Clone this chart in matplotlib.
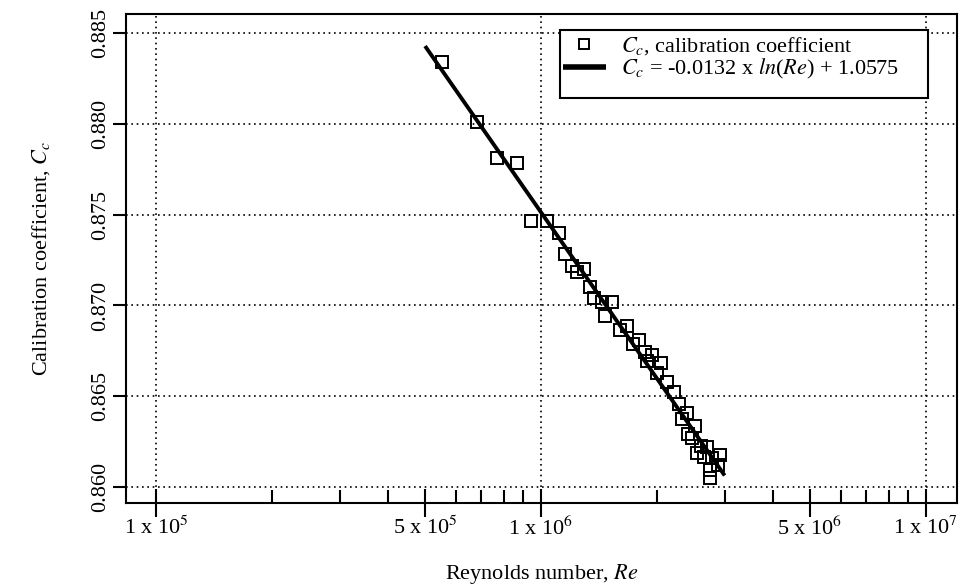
import numpy as np
import matplotlib
matplotlib.use("Agg")
import matplotlib.pyplot as plt
from matplotlib.patches import Rectangle
from matplotlib.ticker import FixedLocator, NullFormatter

plt.rcParams['font.family'] = ['Liberation Serif', 'DejaVu Serif']
plt.rcParams['mathtext.fontset'] = 'stix'

# ---- data ----
re_values = [5.52e5, 6.81e5, 7.70e5, 8.68e5, 9.40e5, 1.035e6, 1.114e6, 1.158e6,
             1.207e6, 1.240e6, 1.294e6, 1.340e6, 1.371e6, 1.438e6, 1.526e6,
             1.469e6, 1.601e6, 1.668e6, 1.732e6, 1.794e6, 1.862e6, 1.942e6,
             1.885e6, 1.998e6, 2.050e6, 2.125e6, 2.212e6, 2.286e6, 2.390e6,
             2.320e6, 2.512e6, 2.413e6, 2.463e6, 2.604e6, 2.699e6, 2.550e6,
             2.654e6, 2.781e6, 2.917e6, 2.882e6, 2.748e6, 2.748e6]
cc_values = [0.88342, 0.88008, 0.87813, 0.87782, 0.87465, 0.87465, 0.87397, 0.87285,
             0.87215, 0.87186, 0.87202, 0.87101, 0.87039, 0.87020, 0.87017,
             0.86944, 0.86865, 0.86889, 0.86787, 0.86808, 0.86743, 0.86727,
             0.86694, 0.86630, 0.86681, 0.86580, 0.86522, 0.86457, 0.86410,
             0.86375, 0.86337, 0.86292, 0.86268, 0.86226, 0.86218, 0.86190,
             0.86167, 0.86160, 0.86176, 0.86121, 0.86094, 0.86052]

fit_slope = -0.0132
fit_intercept = 1.0575
fit_re_range = [5e5, 3e6]

x_major_ticks = [1e5, 5e5, 1e6, 5e6, 1e7]
x_major_labels = [r'1 x 10$^5$', r'5 x 10$^5$', r'1 x 10$^6$', r'5 x 10$^6$', r'1 x 10$^7$']
x_grid = [1e5, 1e6, 1e7]
y_ticks = [0.860, 0.865, 0.870, 0.875, 0.880, 0.885]
y_labels = ['0.860', '0.865', '0.870', '0.875', '0.880', '0.885']

legend_points = r'$C_c$, calibration coefficient'
legend_fit = r'$C_c$ = -0.0132 x $ln$($Re$) + 1.0575'

# ---- figure ----
W, H = 967, 588
fig = plt.figure(figsize=(W / 100, H / 100), dpi=100)
L, R, T, B = 126, 957, 14, 503
ax = fig.add_axes([L / W, 1 - B / H, (R - L) / W, (B - T) / H])

ax.set_xscale('log')
ax.set_xlim(8.36e4, 1.204e7)
ax.set_ylim(0.85912, 0.88605)

# grid lines
grid_kw = dict(color='black', linestyle=(0, (1, 2.2)), linewidth=1.2, zorder=1)
for gx in x_grid:
    ax.axvline(gx, **grid_kw)
for gy in y_ticks:
    ax.axhline(gy, **grid_kw)

# fitted line
re_fit = np.geomspace(fit_re_range[0], fit_re_range[1], 100)
cc_fit = fit_slope * np.log(re_fit) + fit_intercept
ln_fit, = ax.plot(re_fit, cc_fit, color='black', linewidth=2.8, zorder=3,
                  solid_capstyle='butt')

# data points
pts, = ax.plot(re_values, cc_values, linestyle='none', marker='s', markersize=8.5,
               markerfacecolor='none', markeredgecolor='black',
               markeredgewidth=1.4, zorder=4)

# ticks
ax.xaxis.set_major_locator(FixedLocator(x_major_ticks))
ax.set_xticklabels(x_major_labels)
minor = [m * 10 ** e for e in (5, 6) for m in range(2, 10) if m != 5]
ax.xaxis.set_minor_locator(FixedLocator(minor))
ax.xaxis.set_minor_formatter(NullFormatter())
ax.tick_params(axis='x', which='major', direction='inout', length=20, width=1.5,
               labelsize=16, pad=0)
ax.tick_params(axis='x', which='minor', direction='in', length=9.5, width=1.5)

ax.set_yticks(y_ticks)
ax.set_yticklabels(y_labels, rotation=90, va='center')
ax.tick_params(axis='y', which='major', direction='out', length=9.5, width=1.5,
               labelsize=16, pad=2)

for s in ax.spines.values():
    s.set_linewidth(1.5)

ax.set_xlabel(r'Reynolds number, $Re$', fontsize=16, labelpad=16)
ax.set_ylabel(r'Calibration coefficient, $C_c$', fontsize=16, labelpad=28)

# legend with box
def px2ax(px, py):
    return ((px - L) / (R - L), (B - py) / (B - T))

x0, y0 = px2ax(560, 98)
x1, y1 = px2ax(928, 30)
ax.add_patch(Rectangle((x0, y0), x1 - x0, y1 - y0, transform=ax.transAxes,
                       facecolor='white', edgecolor='black', linewidth=1.5,
                       zorder=5))
lx, ly = px2ax(547, 20)
leg = ax.legend([pts, ln_fit], [legend_points, legend_fit], loc='upper left',
                bbox_to_anchor=(lx, ly), frameon=False, fontsize=16,
                handlelength=1.95, handletextpad=0.7, labelspacing=0.0,
                borderpad=0.2, markerscale=0.8)
leg.get_lines()[1].set_linewidth(4)
leg.set_zorder(6)

fig.savefig('out.png', dpi=100)
